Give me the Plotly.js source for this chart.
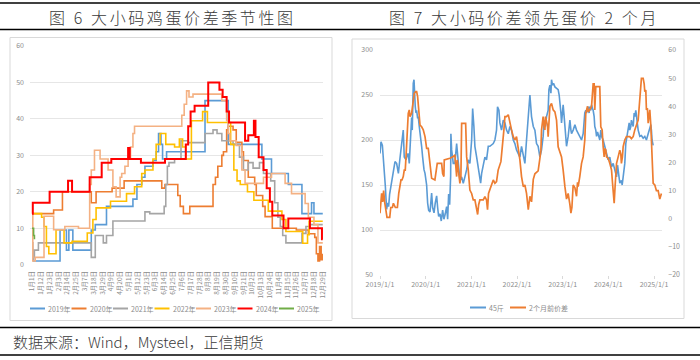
<!DOCTYPE html>
<html><head><meta charset="utf-8">
<script src="https://cdn.plot.ly/plotly-3.0.1.min.js"></script>
<style>html,body{margin:0;padding:0;background:#fff;} #chart{width:700px;height:360px;}</style>
</head><body><div id="chart"></div>
<script>
// ---------- Figure 6: seasonal spread (day-of-year index, value) ----------
const seasonTickDays = [0,11,22,33,44,55,66,77,88,99,110,121,132,143,154,165,176,187,198,209,220,231,242,253,264,275,286,297,308,319,330,341,352,363];
const seasonTickLabels = ['1月1日','1月12日','1月23日','2月3日','2月14日','2月25日','3月7日','3月18日','3月29日','4月9日','4月20日','5月1日','5月12日','5月23日','6月3日','6月14日','6月25日','7月6日','7月17日','7月28日','8月8日','8月19日','8月30日','9月10日','9月21日','10月2日','10月13日','10月24日','11月4日','11月15日','11月26日','12月7日','12月18日','12月29日'];
const yearNames = ['2019年','2020年','2021年','2022年','2023年','2024年','2025年'];
const yearColors = ['#5B9BD5','#ED7D31','#A5A5A5','#FFC000','#F4B183','#FF0000','#70AD47'];

const d2019 = [0,2,35,43,46,51,74,79,93,126,131,137,141,151,155,158,161,163,168,216,243,245,287,299,320,337,349,352,363];
const v2019 = [2.7,1,9.5,4,9.5,4,9.5,11,16,18,22,24,27,28.6,31,36,33,29,31,45,45,33,29,25,22,14,17,14,14];
const d2020 = [0,27,38,74,80,100,115,162,166,178,182,185,189,197,226,229,232,237,239,243,245,251,255,262,264,270,278,280,288,291,300,330,345,353,355,357,359,361,363];
const v2020 = [14,15,20,17,20,21,23,21,22,22,19,16,14,16,22,24,27,30,31,37,38,37,33.6,31,28.6,24,22,19,16,13.2,10,9.5,8.5,7.5,3,1,5,1.4,3];
const d2021 = [0,1,3,8,74,79,89,93,101,141,147,165,167,169,171,178,186,195,216,226,231,237,251,259,264,270,276,284,289,298,303,307,310,313,317,320,337,342,347,363];
const v2021 = [6,2,4,6,2,8,6,8,12,14.5,14,16,22,27,28,29,34,33.5,36,37,36,34,33,29.5,26,28,26.5,28,25,23,17,13,10.5,8,6,6,8.6,10.5,11,11];
const d2022 = [0,12,15,18,21,30,40,50,69,76,80,98,118,128,137,141,151,155,160,167,178,184,188,192,199,213,219,248,252,256,260,269,277,295,312,317,338,344,346,363];
const v2022 = [14,13,10.5,5,3,9.6,6,6.4,8.7,12.4,15.6,17.4,19.5,21.4,25,26,29,33,36,33,32.3,34.5,32.3,29,39.5,42,39,33,26,23,22,20,17.7,14.7,12.4,9.1,5.9,8.2,11.9,11.9];
const d2023 = [0,1,4,15,27,41,58,72,74,78,85,95,101,105,110,112,116,120,123,126,128,187,190,193,196,201,237,243,245,247,255,262,266,289,299,316,324,341,345,352,357,363];
const v2023 = [14,1,2,13.3,9.6,10.5,10,22,26,31.4,29,26,21.4,18.6,24,25,27,29.5,32.3,36,38,41,44,47.7,46,46.8,45,39.5,36,34,32.7,26,22.3,24,25,22.3,19.5,16.8,13,11,6,6];
const d2024 = [0,1,22,45,50,72,87,99,120,122,136,166,192,195,198,203,220,234,238,243,246,266,270,277,279,283,289,293,297,300,314,320,347,362,363];
const v2024 = [14,17,20,23,20,24,28,29,32,29,28,29,33,38,42,43.6,50,48,46,42,39,34,35.5,39.5,35,29.5,26,21,17.3,13.5,10,12.7,10,7,7];
const d2025 = [0,1,2,3];
const v2025 = [10,10,8,7];

// ---------- Figure 7: 45斤 spread vs spread 2 months earlier ----------
const yearTickDates = ['2019-01-01','2020-01-01','2021-01-01','2022-01-01','2023-01-01','2024-01-01','2025-01-01'];
const yearTickLabels = ['2019/1/1','2020/1/1','2021/1/1','2022/1/1','2023/1/1','2024/1/1','2025/1/1'];
const spreadNames = ['45斤','2个月前价差'];

const dates45 = ['2019-01-01','2019-01-09','2019-01-20','2019-01-28','2019-02-05','2019-02-13','2019-02-18','2019-02-23','2019-03-03','2019-03-11','2019-03-19','2019-03-27','2019-04-04','2019-04-18','2019-05-01','2019-05-14','2019-05-28','2019-06-10','2019-06-23','2019-07-06','2019-07-14','2019-07-28','2019-08-07','2019-08-15','2019-08-23','2019-08-29','2019-09-06','2019-09-11','2019-09-16','2019-09-19','2019-09-24','2019-09-30','2019-10-05','2019-10-10','2019-10-16','2019-10-21','2019-10-29','2019-11-03','2019-11-11','2019-11-17','2019-11-25','2019-11-30','2019-12-08','2019-12-13','2019-12-19','2019-12-27',
'2020-01-04','2020-01-09','2020-01-17','2020-01-25','2020-02-05','2020-02-18','2020-02-26','2020-03-08','2020-03-18','2020-03-29','2020-04-06','2020-04-14','2020-04-25','2020-05-05','2020-05-16','2020-05-26','2020-06-06','2020-06-17','2020-06-25','2020-07-03','2020-07-11','2020-07-19','2020-07-21','2020-07-27','2020-08-09','2020-08-22','2020-09-05','2020-09-18','2020-10-01','2020-10-15','2020-10-28','2020-11-10','2020-11-24','2020-12-07','2020-12-20',
'2021-01-03','2021-01-11','2021-01-21','2021-01-29','2021-02-12','2021-02-25','2021-03-10','2021-03-16','2021-03-24','2021-04-06','2021-04-19','2021-05-02','2021-05-16','2021-05-29','2021-06-11','2021-06-25','2021-07-08','2021-07-21','2021-07-29','2021-08-09','2021-08-17','2021-08-30','2021-09-13','2021-09-26','2021-10-09','2021-10-23','2021-11-05','2021-11-18','2021-12-02','2021-12-15','2021-12-28',
'2022-01-11','2022-01-24','2022-02-06','2022-02-20','2022-03-05','2022-03-18','2022-04-01','2022-04-14','2022-04-27','2022-05-11','2022-05-24','2022-06-06','2022-06-19','2022-07-03','2022-07-16','2022-07-29','2022-08-06','2022-08-17','2022-08-25','2022-09-07','2022-09-13','2022-09-21','2022-09-29','2022-10-04','2022-10-12','2022-10-20','2022-10-31','2022-11-13','2022-11-26','2022-12-04','2022-12-10','2022-12-18','2022-12-23','2022-12-28',
'2023-01-05','2023-01-13','2023-01-19','2023-01-27','2023-02-01','2023-02-14','2023-02-22','2023-02-28','2023-03-08','2023-03-13','2023-03-26','2023-04-09','2023-04-22','2023-05-05','2023-05-18','2023-06-01','2023-06-14','2023-06-27','2023-07-05','2023-07-11','2023-07-19','2023-07-24','2023-08-01','2023-08-06','2023-08-14','2023-08-20','2023-08-28','2023-09-02','2023-09-10','2023-09-15','2023-09-23','2023-09-29','2023-10-07','2023-10-12','2023-10-25','2023-11-02','2023-11-08','2023-11-21','2023-12-04','2023-12-18','2023-12-31',
'2024-01-13','2024-01-27','2024-02-09','2024-02-22','2024-03-07','2024-03-15','2024-03-20','2024-03-28','2024-04-02','2024-04-15','2024-04-21','2024-04-29','2024-05-12','2024-05-20','2024-05-25','2024-06-02','2024-06-08','2024-06-16','2024-06-21','2024-06-29','2024-07-04','2024-07-12','2024-07-18','2024-07-26','2024-07-31','2024-08-08','2024-08-13','2024-08-21','2024-08-27','2024-09-04','2024-09-09','2024-09-22','2024-10-06','2024-10-19','2024-11-01','2024-11-15','2024-11-28','2024-12-06','2024-12-11','2024-12-16','2024-12-25'];
const vals45 = [185,198,194,181,167,148,135,123,130,126,140,146,155,167,176,174,163,180,194,211,181,178,183,185,174,196,207,225,211,248,263,267,248,237,230,233,224,226,215,205,200,193,181,174,167,163,
152,150,130,122,120,141,125,119,130,138,125,115,118,110,122,112,118,126,112,140,128,160,207,189,174,174,196,178,155,159,152,159,167,178,174,
200,235,215,193,181,167,155,152,163,174,181,178,193,193,194,196,200,211,237,233,219,211,222,219,211,207,215,211,200,196,189,
185,181,193,181,174,200,226,250,226,215,211,196,193,181,189,204,222,215,226,233,256,261,252,267,261,263,259,257,256,250,244,230,219,233,
239,226,211,200,193,204,215,222,211,207,211,217,211,207,204,200,207,230,233,230,235,237,230,237,233,239,235,233,226,215,211,204,209,207,200,211,204,200,193,185,178,
181,170,174,165,159,172,167,156,152,155,150,159,174,196,200,204,211,219,211,215,222,219,215,230,226,233,228,215,211,207,204,205,202,204,200,207,215,217,211,200,194];

const datesLag = ['2019-01-01','2019-01-06','2019-01-14','2019-01-22','2019-01-30','2019-02-07','2019-02-15','2019-02-26','2019-03-20','2019-03-28','2019-04-10','2019-04-18','2019-05-04','2019-05-20','2019-05-31','2019-06-10','2019-06-18','2019-06-26','2019-07-06','2019-07-14','2019-07-22','2019-07-28','2019-08-02','2019-08-07','2019-08-15','2019-08-23','2019-08-29','2019-09-11','2019-09-24','2019-10-02','2019-10-13','2019-10-21','2019-10-29','2019-11-03','2019-11-11','2019-11-17','2019-11-30','2019-12-13','2019-12-27',
'2020-01-04','2020-01-09','2020-01-22','2020-01-30','2020-02-05','2020-02-13','2020-02-18','2020-03-15','2020-03-29','2020-04-03','2020-05-08','2020-05-16','2020-05-26','2020-05-29','2020-07-13','2020-08-09','2020-08-22','2020-08-30','2020-09-05','2020-09-10','2020-09-18','2020-10-01','2020-10-09','2020-10-15','2020-11-16','2020-11-18','2020-11-24','2020-12-07','2020-12-15','2020-12-20',
'2021-01-03','2021-01-16','2021-01-29','2021-02-12','2021-02-20','2021-02-28','2021-03-10','2021-04-06','2021-04-19','2021-05-02','2021-05-10','2021-05-18','2021-05-29','2021-06-11','2021-06-25','2021-07-08','2021-07-21','2021-08-03','2021-08-17','2021-08-25','2021-09-04','2021-09-13','2021-09-18','2021-09-26','2021-10-09','2021-10-23','2021-11-05','2021-11-18','2021-12-02','2021-12-15','2021-12-28',
'2022-01-11','2022-01-24','2022-02-06','2022-02-20','2022-03-05','2022-03-18','2022-04-01','2022-04-14','2022-04-27','2022-05-11','2022-05-24','2022-06-06','2022-06-19','2022-07-03','2022-07-11','2022-07-16','2022-07-29','2022-08-06','2022-08-12','2022-08-17','2022-08-25','2022-09-02','2022-09-07','2022-09-21','2022-10-04','2022-10-17','2022-10-31','2022-11-13','2022-11-26','2022-12-10','2022-12-23',
'2023-01-05','2023-01-13','2023-01-19','2023-02-01','2023-02-14','2023-02-28','2023-03-08','2023-03-16','2023-03-26','2023-04-09','2023-04-22','2023-04-30','2023-05-05','2023-05-18','2023-06-01','2023-06-14','2023-06-27','2023-07-05','2023-07-11','2023-07-19','2023-07-24','2023-08-06','2023-08-20','2023-09-02','2023-09-10','2023-09-15','2023-09-23','2023-10-25','2023-11-02','2023-11-13','2023-11-21','2023-11-29','2023-12-04','2023-12-12','2023-12-18','2023-12-31',
'2024-01-13','2024-01-27','2024-02-04','2024-02-09','2024-02-17','2024-02-25','2024-03-07','2024-03-20','2024-04-02','2024-04-10','2024-04-15','2024-04-23','2024-04-29','2024-05-12','2024-05-25','2024-06-21','2024-07-04','2024-07-18','2024-07-31','2024-08-27','2024-09-09','2024-09-17','2024-09-22','2024-10-06','2024-10-14','2024-10-19','2024-10-27','2024-11-01','2024-11-09','2024-11-15','2024-11-23','2024-11-28','2024-12-06','2024-12-11','2024-12-19','2024-12-25',
'2025-01-07','2025-01-20','2025-02-03','2025-02-16','2025-03-01'];
const valsLag = [2,7,9,6,10,6,3,0.5,0.5,4,4,5.5,4,4,9,11.4,13.8,13.8,15,17.3,17.3,22,26.8,31.6,37.5,38.7,36.3,37.5,41,44.6,45.2,45.2,43.4,39.9,35.1,33.3,32.7,31.6,29.2,
26.8,25,25,22,18.5,16.7,14.4,13.8,17.3,19.7,19.7,16.1,15,20.9,21.5,22.1,22.7,17.3,15,20.9,17.3,12.6,15,33.9,33.9,25.6,22,17.3,12.6,10.2,
9,6.7,6.7,3.2,1.5,5,6.7,6.7,7.9,6.7,3.2,9,10.3,12,13.8,12.6,13.2,17.3,19.1,20.3,25,28,31.6,36.3,36.3,37,33.9,31.6,29.2,28,29.2,
25.6,20.9,15,11.4,12,9,3.2,8,6,14,16,16.5,17,21.5,24.4,31.6,36.3,32.7,31.6,36.3,35,33,29.2,40,41,38.7,38,35.1,25.6,23.3,22,
17.3,12.6,11.4,7,9,5,2,4,12,11,8,13,11.4,15,19.7,22,28,37.5,38.7,40,38,38.7,40,48,48,38.7,47,47,32.7,31.6,25.6,22,25,24.4,22,21.5,
19.7,17.3,12.6,10,5.5,12,19.7,22,24.4,23,19.7,22,25.6,28,29.2,29.2,28.5,29.2,31.6,35.1,44,47,49.9,49.9,48,45.2,45.8,38.7,39.3,34,37.5,38.7,33.3,28,19.7,12.6,
12,10,10,7,9];

// ---------- build ----------
const X = p => p / 700;
const Y = p => 1 - p / 360;
const tickGray = '#8c8c8c';
const gridGray = '#e6e6e6';
const cjk = '"Noto Sans CJK SC", "Noto Sans", sans-serif';

const seasonD = [d2019, d2020, d2021, d2022, d2023, d2024, d2025];
const seasonV = [v2019, v2020, v2021, v2022, v2023, v2024, v2025];
const traces = seasonD.map((d, i) => ({
  x: d, y: seasonV[i], type: 'scatter', mode: 'lines', name: yearNames[i],
  xaxis: 'x', yaxis: 'y', hoverinfo: 'skip',
  line: {shape: 'hv', color: yearColors[i], width: i === 5 ? 2 : 1.6}
}));
traces.push({x: dates45, y: vals45, type: 'scatter', mode: 'lines', name: spreadNames[0],
  xaxis: 'x2', yaxis: 'y2', hoverinfo: 'skip', line: {color: '#5B9BD5', width: 1.6}});
traces.push({x: datesLag, y: valsLag, type: 'scatter', mode: 'lines', name: spreadNames[1],
  xaxis: 'x2', yaxis: 'y3', hoverinfo: 'skip', line: {color: '#ED7D31', width: 1.7}});

const shapes = [];
const annotations = [];
// horizontal rules
[3, 29.5, 327.5, 355].forEach(py => shapes.push({type: 'line', xref: 'paper', yref: 'paper',
  x0: 0, x1: 1, y0: Y(py), y1: Y(py), line: {color: '#000', width: 1.4}}));
// panel borders
shapes.push({type: 'rect', xref: 'paper', yref: 'paper', x0: X(10), x1: X(332), y0: Y(320.5), y1: Y(37.5), line: {color: '#d9d9d9', width: 1}});
shapes.push({type: 'rect', xref: 'paper', yref: 'paper', x0: X(352), x1: X(684), y0: Y(318.5), y1: Y(39), line: {color: '#d9d9d9', width: 1}});

// titles and source
annotations.push({xref: 'paper', yref: 'paper', x: X(172.5), y: Y(17), xanchor: 'center', yanchor: 'middle', showarrow: false,
  text: '<span style="letter-spacing:2.6px">图 6 大小码鸡蛋价差季节性图</span>', font: {family: cjk, size: 16, weight: 300, color: '#3a3a3a'}});
annotations.push({xref: 'paper', yref: 'paper', x: X(524), y: Y(17), xanchor: 'center', yanchor: 'middle', showarrow: false,
  text: '<span style="letter-spacing:2.6px">图 7 大小码价差领先蛋价 2 个月</span>', font: {family: cjk, size: 16, weight: 300, color: '#3a3a3a'}});
annotations.push({xref: 'paper', yref: 'paper', x: X(11), y: Y(341.5), xanchor: 'left', yanchor: 'middle', showarrow: false,
  text: '数据来源：Wind，Mysteel，正信期货', font: {family: cjk, size: 15, weight: 300, color: '#3a3a3a'}});

// legend for figure 6
yearNames.forEach((nm, i) => {
  const x0 = 30 + 41.5 * i;
  shapes.push({type: 'line', xref: 'paper', yref: 'paper', x0: X(x0), x1: X(x0 + 15), y0: Y(308.5), y1: Y(308.5),
    line: {color: yearColors[i], width: 2}});
  annotations.push({xref: 'paper', yref: 'paper', x: X(x0 + 16), y: Y(308.5), xanchor: 'left', yanchor: 'middle', showarrow: false,
    text: nm, font: {family: cjk, size: 7, color: tickGray}});
});
// legend for figure 7
const lagLegX = [470, 510];
const lagLegC = ['#5B9BD5', '#ED7D31'];
spreadNames.forEach((nm, i) => {
  const x0 = lagLegX[i];
  shapes.push({type: 'line', xref: 'paper', yref: 'paper', x0: X(x0), x1: X(x0 + 16), y0: Y(307.5), y1: Y(307.5),
    line: {color: lagLegC[i], width: 2}});
  annotations.push({xref: 'paper', yref: 'paper', x: X(x0 + 17), y: Y(307.5), xanchor: 'left', yanchor: 'middle', showarrow: false,
    text: nm, font: {family: cjk, size: 7, color: tickGray}});
});

const layout = {
  width: 700, height: 360, margin: {l: 0, r: 0, t: 0, b: 0},
  paper_bgcolor: '#fff', plot_bgcolor: 'rgba(0,0,0,0)', showlegend: false,
  font: {family: cjk, color: tickGray},
  xaxis: {domain: [X(30), X(323)], anchor: 'y', range: [-2.5, 363.3], tickmode: 'array',
    tickvals: seasonTickDays, ticktext: seasonTickLabels, tickangle: -90, tickfont: {size: 6.5, color: tickGray},
    showgrid: false, zeroline: false, showline: false, ticks: '', ticklabelstandoff: 4, fixedrange: true},
  yaxis: {domain: [Y(264.7), Y(46)], anchor: 'x', range: [0, 60], dtick: 10, tickfont: {size: 7, color: tickGray},
    gridcolor: gridGray, gridwidth: 1, zeroline: false, showline: false, ticks: '', ticklabelstandoff: 5, fixedrange: true},
  xaxis2: {domain: [X(380), X(662.3)], anchor: 'y2', type: 'date', range: ['2019-01-01', '2025-03-08'],
    tickmode: 'array', tickvals: yearTickDates, ticktext: yearTickLabels, tickangle: 0,
    tickfont: {size: 7, color: tickGray}, showgrid: false, zeroline: false, showline: false,
    ticks: 'outside', ticklen: 3, tickcolor: '#d9d9d9', fixedrange: true},
  yaxis2: {domain: [Y(275), Y(50)], anchor: 'x2', range: [50, 300], dtick: 50, tickfont: {size: 7, color: tickGray},
    gridcolor: gridGray, gridwidth: 1, zeroline: false, showline: false, ticks: '', ticklabelstandoff: 6, fixedrange: true},
  yaxis3: {overlaying: 'y2', anchor: 'x2', side: 'right', range: [-20, 60], dtick: 10, tickfont: {size: 7, color: tickGray},
    showgrid: false, zeroline: false, showline: false, ticks: '', ticklabelstandoff: 5, fixedrange: true},
  shapes: shapes, annotations: annotations
};

Plotly.newPlot('chart', traces, layout, {staticPlot: true, displayModeBar: false});
</script></body></html>
